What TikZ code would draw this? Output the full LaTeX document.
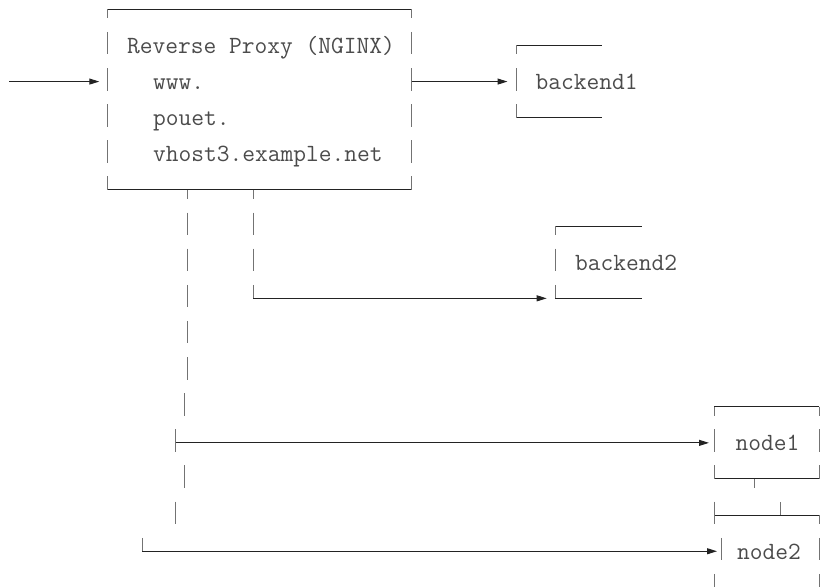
\documentclass[tikz,border=0pt]{standalone}
\usepackage{fontspec}
\usetikzlibrary{arrows.meta}
\definecolor{InkGray}{RGB}{75,75,75}
\definecolor{RuleDark}{RGB}{35,35,35}
\definecolor{RuleGray}{RGB}{115,115,115}
\tikzset{
  hline/.style={draw=RuleDark,line width=1pt},
  vline/.style={draw=RuleGray,line width=1pt,dash pattern=on 22.5pt off 13.63pt,dash phase=13.5pt},
  tick/.style={draw=RuleGray,line width=1pt},
  link/.style={hline,-{Triangle[length=10pt,width=6pt]}},
  lbl/.style={anchor=base west,inner sep=0pt,yshift=-7.9pt,text=InkGray,
    font=\ttfamily\fontsize{24.76pt}{28pt}\selectfont},
}

\begin{document}
\begin{tikzpicture}[x=1pt,y=-36.13pt]
\useasboundingbox (0,-0.2574) rectangle (820,15.962);
% box corners
\coordinate (px-nw) at (107.3,0);
\coordinate (px-ne) at (411.7,0);
\coordinate (px-sw) at (107.3,5);
\coordinate (px-se) at (411.7,5);
\coordinate (b1-nw) at (516.7,1);
\coordinate (b1-ne) at (601.7,1);
\coordinate (b1-sw) at (516.7,3);
\coordinate (b1-se) at (601.7,3);
\coordinate (b2-nw) at (555,6);
\coordinate (b2-ne) at (641.7,6);
\coordinate (b2-sw) at (555,8);
\coordinate (b2-se) at (641.7,8);
\coordinate (n1-nw) at (714,11);
\coordinate (n1-ne) at (819.3,11);
\coordinate (n1-sw) at (714,13);
\coordinate (n1-se) at (819.3,13);
\coordinate (n2-nw) at (714,14);
\coordinate (n2-ne) at (819.3,14);
% connector ends
\coordinate (in-start) at (9,2);
\coordinate (px-in) at (99.3,2);
\coordinate (px-out) at (411.7,2);
\coordinate (b1-in) at (507.5,2);
\coordinate (px-s1) at (187.3,5);
\coordinate (px-s2) at (253.3,5);
\coordinate (b2-turn) at (253.3,8);
\coordinate (b2-in) at (546.7,8);
\coordinate (n1-fork) at (175.7,12);
\coordinate (n1-in) at (709,12);
\coordinate (n2-fork) at (142,15);
\coordinate (n2-in) at (717,15);
\coordinate (n1-tie) at (754,13);
\coordinate (n2-tie) at (780,14);
% frames
\draw[hline] (px-nw) -- (px-ne);
\draw[hline] (px-sw) -- (px-se);
\draw[vline] (px-nw) -- (px-sw);
\draw[vline] (px-ne) -- (px-se);
\draw[hline] (b1-nw) -- (b1-ne);
\draw[hline] (b1-sw) -- (b1-se);
\draw[vline] (b1-nw) -- (b1-sw);
\draw[hline] (b2-nw) -- (b2-ne);
\draw[hline] (b2-sw) -- (b2-se);
\draw[vline] (b2-nw) -- (b2-sw);
\draw[hline] (n1-nw) -- (n1-ne);
\draw[hline] (n1-sw) -- (n1-se);
\draw[vline] (n1-nw) -- (n1-sw);
\draw[vline] (n1-ne) -- (n1-se);
\draw[hline] (n2-nw) -- (n2-ne);
\draw[tick] (n2-nw) +(0,13.5pt) -- +(0,-9pt);
\draw[tick] (721.7,15) +(0,13.5pt) -- +(0,-9pt);
\draw[tick] (714,16) +(0,13.5pt) -- +(0,-9pt);
\draw[vline] (n2-ne) -- (819.3,16.25);
\draw[tick] (n1-tie) -- +(0,-9pt);
\draw[tick] (n2-tie) -- +(0,13.5pt);
% connectors
\draw[link] (in-start) -- (px-in);
\draw[link] (px-out) -- (b1-in);
\draw[vline] (px-s2) -- (b2-turn);
\draw[link] (b2-turn) -- (b2-in);
\draw[vline] (px-s1) -- (187.3,10.25);
\draw[tick] (184,11) +(0,13.5pt) -- +(0,-9pt);
\draw[tick] (n1-fork) +(0,13.5pt) -- +(0,-9pt);
\draw[link] (n1-fork) -- (n1-in);
\draw[tick] (184,13) +(0,13.5pt) -- +(0,-9pt);
\draw[tick] (175,14) +(0,13.5pt) -- +(0,-9pt);
\draw[tick] (n2-fork) +(0,13.5pt) -- (n2-fork);
\draw[link] (n2-fork) -- (n2-in);
% labels
\node[lbl] (title) at (127,1) {Reverse Proxy (NGINX)};
\node[lbl] (host1) at (153,2) {www.};
\node[lbl] (host2) at (153,3) {pouet.};
\node[lbl] (host3) at (153,4) {vhost3.example.net};
\node[lbl] (backend1) at (535.5,2) {backend1};
\node[lbl] (backend2) at (575,7) {backend2};
\node[lbl] (node1) at (735.5,12) {node1};
\node[lbl] (node2) at (737,15) {node2};
\end{tikzpicture}
\end{document}
